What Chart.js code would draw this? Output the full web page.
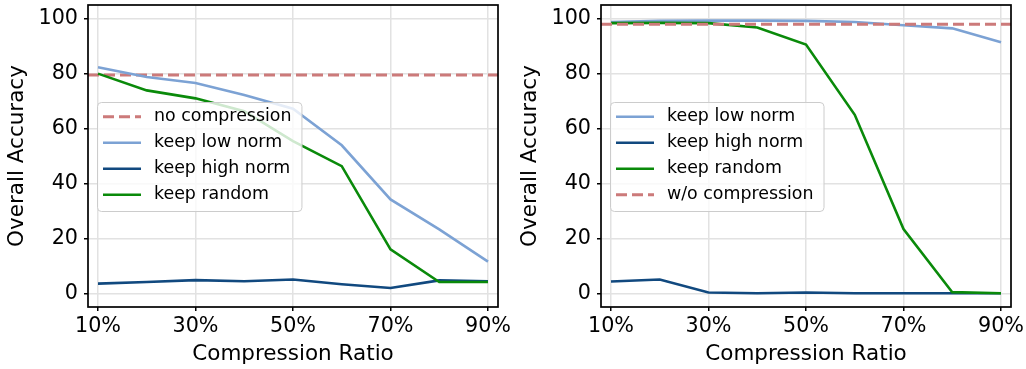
<!DOCTYPE html>
<html>
<head>
<meta charset="utf-8">
<script src="https://cdn.jsdelivr.net/npm/chart.js@4"></script>
<style>
    body { margin: 0; background: #fff; width: 1026px; height: 369px; overflow: hidden; }
    canvas { position: absolute; top: 0; }
    #left { left: 0; }
    #right { left: 513px; }
</style>
</head>
<body>
<canvas id="left" width="513" height="369"></canvas>
<canvas id="right" width="513" height="369"></canvas>
<script>
const ratios = [10, 20, 30, 40, 50, 60, 70, 80, 90];
const xTicks = [10, 30, 50, 70, 90];
const yTicks = [0, 20, 40, 60, 80, 100];

// left panel
const leftLowNorm = [82.3, 78.8, 76.6, 72.2, 67.2, 53.9, 34.2, 23.3, 11.5];
const leftHighNorm = [3.5, 4.1, 4.8, 4.4, 5.0, 3.3, 1.9, 4.7, 4.4];
const leftRandom = [80.0, 73.9, 71.0, 66.3, 55.4, 46.3, 16.0, 4.1, 4.1];
const leftBaseline = 79.5;

// right panel
const rightLowNorm = [98.8, 99.2, 99.3, 99.3, 99.2, 98.8, 97.6, 96.5, 91.4];
const rightHighNorm = [4.3, 5.0, 0.3, 0.0, 0.3, 0.0, 0.0, 0.0, 0.0];
const rightRandom = [98.4, 98.5, 98.4, 96.8, 90.6, 65.0, 23.4, 0.4, 0.0];
const rightBaseline = 98.0;

const FONT = "DejaVu Sans";
const X_MIN = 7.95, X_MAX = 92.05;
const COLORS = {
    low: "#7ca2d4",
    high: "#11497f",
    random: "#0a8a0a",
    base: "#cc7a7a",
};

const pts = (ys) => ys.map((y, i) => ({ x: ratios[i], y }));

function line(label, ys, color, order) {
    return {
        label,
        data: pts(ys),
        borderColor: color,
        borderWidth: 2.6,
        pointRadius: 0,
        tension: 0,
        fill: false,
        order,
    };
}

function hline(label, y, order) {
    return {
        label,
        data: [{ x: X_MIN, y }, { x: X_MAX, y }],
        borderColor: COLORS.base,
        borderWidth: 3,
        borderDash: [11, 5],
        pointRadius: 0,
        fill: false,
        order,
    };
}

// black box around the plot area
const frame = {
    id: "frame",
    afterDraw(chart) {
        const { ctx, chartArea: a } = chart;
        ctx.save();
        ctx.strokeStyle = "#000";
        ctx.lineWidth = 1.7;
        ctx.strokeRect(a.left, a.top, a.right - a.left, a.bottom - a.top);
        ctx.restore();
    },
};

// matplotlib style legend box inside the plot
const boxLegend = {
    id: "boxLegend",
    afterDraw(chart, args, o) {
        const ctx = chart.ctx;
        const sets = o.order.map((i) => chart.data.datasets[i]);
        ctx.save();
        ctx.font = `17.4px "${FONT}"`;
        const w = Math.max(...sets.map((d) => ctx.measureText(d.label).width));
        const bx = o.left, by = o.top;
        ctx.beginPath();
        ctx.roundRect(bx + 0.5, by + 0.5, 57 + w + 10, 109, 4);
        ctx.fillStyle = "rgba(255,255,255,0.8)";
        ctx.fill();
        ctx.strokeStyle = "#cccccc";
        ctx.lineWidth = 1;
        ctx.stroke();
        sets.forEach((d, k) => {
            const y = by + 14.7 + k * 26;
            ctx.strokeStyle = d.borderColor;
            ctx.lineWidth = d.borderWidth;
            ctx.setLineDash(d.borderDash || []);
            ctx.beginPath();
            ctx.moveTo(bx + 6, y);
            ctx.lineTo(bx + 44, y);
            ctx.stroke();
            ctx.setLineDash([]);
            ctx.fillStyle = "#000";
            ctx.textBaseline = "middle";
            ctx.fillText(d.label, bx + 57, y);
        });
        ctx.restore();
    },
};

function scales() {
    const grid = {
        color: "#e2e2e2",
        lineWidth: 1.5,
        tickColor: "#000",
        tickLength: 4,
        tickWidth: 1.5,
    };
    return {
        x: {
            type: "linear",
            min: X_MIN,
            max: X_MAX,
            afterBuildTicks: (s) => { s.ticks = xTicks.map((v) => ({ value: v })); },
            afterFit: (s) => { s.height = 62; s.paddingLeft = 0; s.paddingRight = 0; },
            ticks: {
                callback: (v) => v + "%",
                font: { family: FONT, size: 20.7 },
                color: "#000",
                padding: 3,
                maxRotation: 0,
                autoSkip: false,
            },
            grid,
            border: { display: false },
            title: {
                display: true,
                text: "Compression Ratio",
                font: { family: FONT, size: 21.5 },
                color: "#000",
                padding: { top: 0, bottom: 2 },
            },
        },
        y: {
            type: "linear",
            min: -5,
            max: 105,
            afterBuildTicks: (s) => { s.ticks = yTicks.map((v) => ({ value: v })); },
            afterFit: (s) => { s.width = 88; s.paddingTop = 0; s.paddingBottom = 0; },
            ticks: {
                font: { family: FONT, size: 20.7 },
                color: "#000",
                padding: 6,
            },
            grid,
            border: { display: false },
            title: {
                display: true,
                text: "Overall Accuracy",
                font: { family: FONT, size: 21.5 },
                color: "#000",
                padding: { top: 5, bottom: 0 },
            },
        },
    };
}

function makeChart(id, datasets, legendOrder) {
    return new Chart(document.getElementById(id), {
        type: "line",
        data: { datasets },
        plugins: [frame, boxLegend],
        options: {
            responsive: false,
            animation: false,
            devicePixelRatio: 1,
            layout: { padding: { left: 0, right: 15, top: 5, bottom: 0 } },
            scales: scales(),
            plugins: {
                legend: { display: false },
                tooltip: { enabled: false },
                boxLegend: { order: legendOrder, left: 97, top: 102 },
            },
        },
    });
}

makeChart("left", [
    hline("no compression", leftBaseline, 3),
    line("keep low norm", leftLowNorm, COLORS.low, 2),
    line("keep high norm", leftHighNorm, COLORS.high, 1),
    line("keep random", leftRandom, COLORS.random, 0),
], [0, 1, 2, 3]);

makeChart("right", [
    line("keep low norm", rightLowNorm, COLORS.low, 3),
    line("keep high norm", rightHighNorm, COLORS.high, 2),
    line("keep random", rightRandom, COLORS.random, 1),
    hline("w/o compression", rightBaseline, 0),
], [0, 1, 2, 3]);
</script>
</body>
</html>
